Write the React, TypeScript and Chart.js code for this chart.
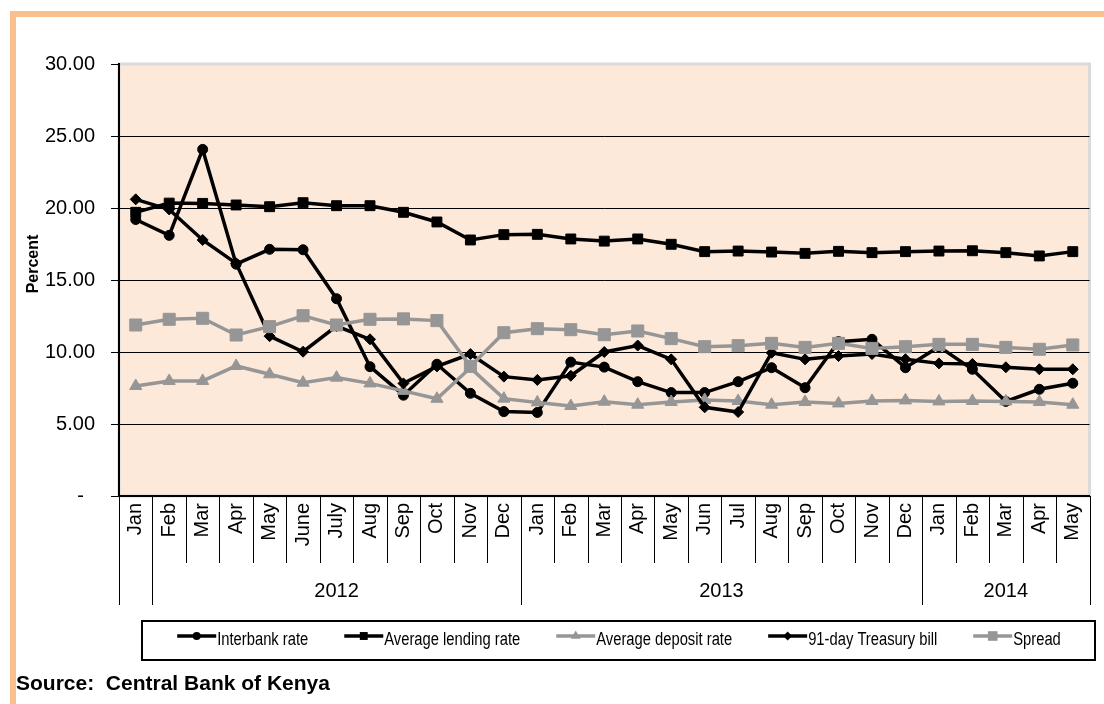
import { useEffect, useRef } from 'react';
import { Chart, registerables } from 'chart.js';

Chart.register(...registerables);

const months = [
  'Jan', 'Feb', 'Mar', 'Apr', 'May', 'June', 'July', 'Aug', 'Sep', 'Oct', 'Nov', 'Dec',
  'Jan', 'Feb', 'Mar', 'Apr', 'May', 'Jun', 'Jul', 'Aug', 'Sep', 'Oct', 'Nov', 'Dec',
  'Jan', 'Feb', 'Mar', 'Apr', 'May',
];
const yearLabels = ['', '2012', '2013', '2014'];
const yearStarts = [0, 1, 12, 24];

const interbankRate = [
  19.2, 18.1, 24.07, 16.1, 17.13, 17.1, 13.7, 8.98, 7.0, 9.15, 7.13, 5.86,
  5.8, 9.3, 8.95, 7.94, 7.18, 7.18, 7.94, 8.91, 7.52, 10.72, 10.88, 8.91,
  10.37, 8.8, 6.57, 7.41, 7.83,
];
const averageLendingRate = [
  19.7, 20.34, 20.32, 20.21, 20.09, 20.37, 20.16, 20.16, 19.7, 19.03, 17.78, 18.15,
  18.17, 17.85, 17.7, 17.85, 17.48, 16.97, 17.01, 16.94, 16.85, 16.99, 16.9, 16.97,
  17.01, 17.03, 16.9, 16.67, 16.97,
];
const averageDepositRate = [
  7.64, 7.99, 7.99, 9.03, 8.45, 7.87, 8.22, 7.82, 7.3, 6.75, 8.9, 6.76,
  6.5, 6.25, 6.55, 6.34, 6.53, 6.67, 6.6, 6.34, 6.53, 6.43, 6.6, 6.64,
  6.57, 6.6, 6.57, 6.53, 6.34,
];
const treasuryBill91 = [
  20.6, 19.9, 17.78, 16.16, 11.1, 10.02, 11.8, 10.88, 7.82, 9.0, 9.86, 8.29,
  8.06, 8.35, 10.0, 10.45, 9.49, 6.16, 5.83, 9.95, 9.49, 9.72, 9.86, 9.5,
  9.21, 9.17, 8.94, 8.8, 8.8,
];
const spread = [
  11.875, 12.27, 12.34, 11.18, 11.76, 12.52, 11.875, 12.27, 12.3, 12.18, 9.0, 11.34,
  11.62, 11.55, 11.2, 11.46, 10.93, 10.37, 10.44, 10.6, 10.32, 10.6, 10.25, 10.37,
  10.53, 10.53, 10.32, 10.19, 10.49,
];

const yMin = 0;
const yMax = 30;
const yStep = 5;

const BLACK = '#000000';
const GRAY = '#969696';
const FONT = '"Liberation Sans", Arial, Helvetica, sans-serif';

type Series = { label: string; data: number[]; color: string; style: string; r: number; order: number };

const series: Series[] = [
  { label: 'Interbank rate', data: interbankRate, color: BLACK, style: 'circle', r: 5, order: 5 },
  { label: 'Average lending rate', data: averageLendingRate, color: BLACK, style: 'rect', r: 7, order: 4 },
  { label: 'Average deposit rate', data: averageDepositRate, color: GRAY, style: 'triangle', r: 7, order: 3 },
  { label: '91-day Treasury bill', data: treasuryBill91, color: BLACK, style: 'rectRot', r: 5.5, order: 2 },
  { label: 'Spread', data: spread, color: GRAY, style: 'rect', r: 8.5, order: 1 },
];

function drawMarker(c: CanvasRenderingContext2D, style: string, x: number, y: number, r: number, color: string) {
  c.fillStyle = color;
  c.beginPath();
  if (style === 'circle') {
    c.arc(x, y, r, 0, Math.PI * 2);
  } else if (style === 'rect') {
    const s = r * Math.SQRT1_2;
    c.rect(x - s, y - s, 2 * s, 2 * s);
  } else if (style === 'triangle') {
    c.moveTo(x, y - r);
    c.lineTo(x + r * 0.866, y + r * 0.5);
    c.lineTo(x - r * 0.866, y + r * 0.5);
    c.closePath();
  } else {
    c.moveTo(x, y - r);
    c.lineTo(x + r, y);
    c.lineTo(x, y + r);
    c.lineTo(x - r, y);
    c.closePath();
  }
  c.fill();
}

export default function App() {
  const ref = useRef<HTMLCanvasElement | null>(null);

  useEffect(() => {
    document.body.style.margin = '0';
    const canvas = ref.current;
    if (!canvas) return;
    const W = 1104;
    const H = 704;

    const decor = {
      id: 'decor',
      beforeDraw(chart: any) {
        const c: CanvasRenderingContext2D = chart.ctx;
        const a = chart.chartArea;
        c.save();
        c.fillStyle = '#ffffff';
        c.fillRect(0, 0, W, H);
        c.fillStyle = '#FABF8F';
        c.fillRect(10, 11, W - 10, 6);
        c.fillRect(10, 11, 6, H - 11);
        c.fillStyle = '#FDE9D9';
        c.fillRect(a.left, a.top, a.right - a.left, a.bottom - a.top);
        c.strokeStyle = '#DADADA';
        c.lineWidth = 3;
        c.strokeRect(a.left, a.top, a.right - a.left, a.bottom - a.top);
        c.restore();
      },
      afterDraw(chart: any) {
        const c: CanvasRenderingContext2D = chart.ctx;
        const a = chart.chartArea;
        const xs = chart.scales.x;
        const n = months.length;
        const bx = (i: number) =>
          i === 0 ? a.left : i === n ? a.right : (xs.getPixelForValue(i - 1) + xs.getPixelForValue(i)) / 2;
        c.save();
        // separators below the axis
        c.strokeStyle = BLACK;
        c.lineWidth = 1;
        for (let i = 0; i <= n; i++) {
          const isYear = yearStarts.includes(i) || i === n;
          const x = Math.round(bx(i)) + 0.5;
          c.beginPath();
          c.moveTo(x, a.bottom);
          c.lineTo(x, isYear ? 605 : 563);
          c.stroke();
        }
        // year labels
        c.fillStyle = BLACK;
        c.font = `20px ${FONT}`;
        c.textAlign = 'center';
        c.textBaseline = 'middle';
        for (let g = 0; g < yearLabels.length; g++) {
          if (!yearLabels[g]) continue;
          const s = yearStarts[g];
          const e = g + 1 < yearStarts.length ? yearStarts[g + 1] : n;
          c.fillText(yearLabels[g], (bx(s) + bx(e)) / 2, 591);
        }
        // y-axis title
        c.save();
        c.translate(34, 264);
        c.rotate(-Math.PI / 2);
        c.font = `bold 16px ${FONT}`;
        c.fillText('Percent', 0, 0);
        c.restore();
        // legend
        const boxL = 142, boxT = 621, boxR = 1095, boxB = 660;
        c.strokeStyle = BLACK;
        c.lineWidth = 2;
        c.strokeRect(boxL, boxT, boxR - boxL, boxB - boxT);
        const sx = 0.82;
        c.font = `18px ${FONT}`;
        const lineLen = 39;
        const gap = 37;
        const widths = series.map((s) => c.measureText(s.label).width * sx);
        const total = widths.reduce((p, w) => p + w + lineLen, 0) + gap * (series.length - 1);
        let x = (boxL + boxR) / 2 - total / 2;
        const ly = 636;
        series.forEach((s, i) => {
          c.strokeStyle = s.color;
          c.lineWidth = 3.5;
          c.beginPath();
          c.moveTo(x, ly);
          c.lineTo(x + lineLen, ly);
          c.stroke();
          drawMarker(c, s.style, x + lineLen / 2, ly, s.r * 0.8, s.color);
          c.save();
          c.translate(x + lineLen + 1, 640);
          c.scale(sx, 1);
          c.fillStyle = BLACK;
          c.textAlign = 'left';
          c.textBaseline = 'middle';
          c.fillText(s.label, 0, 0);
          c.restore();
          x += lineLen + widths[i] + gap;
        });
        // source
        c.fillStyle = BLACK;
        c.font = `bold 21px ${FONT}`;
        c.textAlign = 'left';
        c.textBaseline = 'alphabetic';
        c.fillText('Source:  Central Bank of Kenya', 16, 690);
        c.restore();
      },
    };

    const chart = new Chart(canvas, {
      type: 'line',
      data: {
        labels: months,
        datasets: series.map((s) => ({
          label: s.label,
          data: s.data,
          borderColor: s.color,
          backgroundColor: s.color,
          pointBackgroundColor: s.color,
          pointBorderColor: s.color,
          pointBorderWidth: 1,
          pointStyle: s.style as any,
          pointRadius: s.r,
          borderWidth: 3.5,
          tension: 0,
          fill: false,
          order: s.order,
        })),
      },
      options: {
        animation: false,
        responsive: false,
        devicePixelRatio: 1,
        layout: { padding: { left: 0, top: 64, right: 12, bottom: 0 } },
        plugins: { legend: { display: false }, tooltip: { enabled: false }, title: { display: false } },
        scales: {
          x: {
            type: 'category',
            offset: true,
            grid: { display: false, drawTicks: false },
            border: { display: true, color: BLACK, width: 2 },
            ticks: {
              autoSkip: false,
              minRotation: 90,
              maxRotation: 90,
              padding: 7,
              color: BLACK,
              font: { family: FONT, size: 20 },
            },
            afterFit(scale: any) {
              scale.height = 208;
            },
          },
          y: {
            min: yMin,
            max: yMax,
            grid: {
              color: (ctx: any) => (ctx.tick && ctx.tick.value === yMax ? 'rgba(0,0,0,0)' : BLACK),
              tickColor: BLACK,
              tickLength: 8,
              lineWidth: 1,
            },
            border: { display: true, color: BLACK, width: 2 },
            ticks: {
              stepSize: yStep,
              padding: 16,
              color: BLACK,
              font: { family: FONT, size: 20 },
              callback: (v: any) => (Number(v) === 0 ? '-  ' : Number(v).toFixed(2)),
            },
            afterFit(scale: any) {
              scale.width = 119;
            },
          },
        },
      },
      plugins: [decor],
    });

    return () => chart.destroy();
  }, []);

  return (
    <div style={{ position: 'absolute', left: 0, top: 0, width: 1104, height: 704 }}>
      <canvas ref={ref} width={1104} height={704} style={{ display: 'block', width: 1104, height: 704 }} />
    </div>
  );
}
